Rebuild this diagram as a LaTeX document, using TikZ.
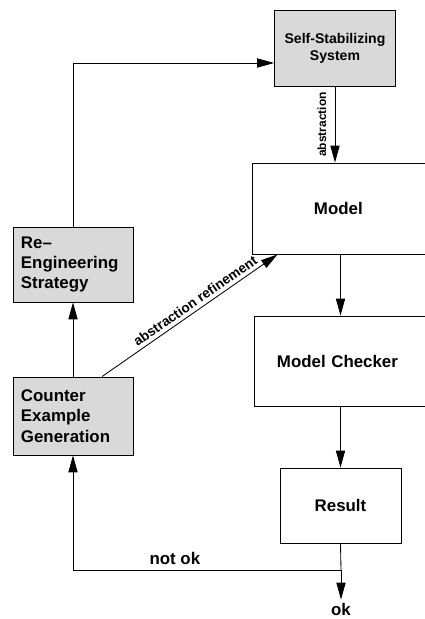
\documentclass[tikz,border=0pt]{standalone}
\usepackage{fontspec}
\setmainfont{Liberation Sans}
\usetikzlibrary{positioning, arrows.meta, calc}

\begin{document}
\begin{tikzpicture}[x=0.025cm, y=-0.025cm, >={Triangle[length=12pt,width=6.5pt]}, line width=0.6pt,
  font=\bfseries\fontsize{12}{14.5}\selectfont,
  box/.style={draw, rectangle, inner ysep=0pt},
  greybox/.style={box, fill=black!15, text width=2.6cm, inner xsep=0.2cm, align=left},
  small/.style={font=\bfseries\fontsize{#1}{12}\selectfont}]
  \useasboundingbox (0,0) rectangle (425,619);
  \clip (0,0) rectangle (425,619);

  % boxes
  \node[box, fill=black!15, small=10, align=center, minimum width=3.025cm, minimum height=1.9cm] (sss) at (335,48) {Self-Stabilizing\\System};
  \node[box, text width=1.65cm, inner xsep=1.55cm, align=left, minimum height=2.275cm] (model) at (347,208.5) {Model};
  \node[box, text width=3.625cm, inner xsep=0.575cm, align=left, minimum height=2.25cm] (mc) at (349.5,361) {Model Checker};
  \node[box, minimum width=3.025cm, minimum height=1.875cm] (result) at (340.5,505.5) {Result};
  \node[greybox, minimum height=1.875cm] (re) at (73,264.5) {Re--\\Engineering\\Strategy};
  \node[greybox, minimum height=1.95cm] (ce) at (73,416) {Counter\\Example\\Generation};
  \node[inner sep=2pt] (ok) at (341,609) {ok};
  \coordinate (split) at (341,570);

  \path[->]
    (sss.south) edge node[midway, rotate=90, anchor=south, inner sep=1pt, yshift=5pt, small=8.5] {abstraction} (sss.south |- model.north)
    (model.south -| result) edge (mc.north -| result)
    (mc.south -| result) edge (result.north)
    (ce.north) edge (re.south)
    ([xshift=0.725cm]ce.north) edge node[pos=0.56, sloped, above, inner sep=2.5pt, small=9.7] {abstraction refinement} ([xshift=0.65cm]model.south west)
    (split) edge (ok);

  \draw (result.south) -- (split);
  \draw[->] (split) -| node[pos=0.31, above] {not ok} (ce.south);
  \draw[->] (re.north) |- ([yshift=-0.375cm]sss.west);
\end{tikzpicture}
\end{document}
